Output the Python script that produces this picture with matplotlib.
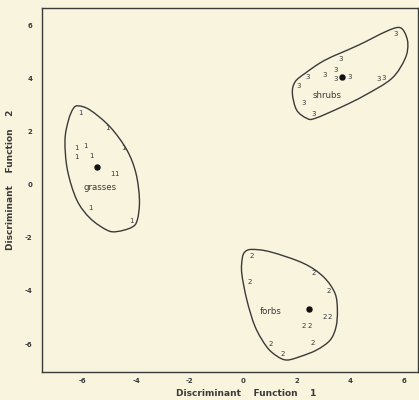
import numpy as np
import matplotlib
matplotlib.use("Agg")
import matplotlib.pyplot as plt
from matplotlib.path import Path
from matplotlib.patches import PathPatch

# ---- data ----
grass_x = [-6.10, -5.09, -6.25, -5.91, -4.49, -6.25, -5.69, -4.90, -4.72, -5.72, -4.16]
grass_y = [2.69, 2.13, 1.37, 1.45, 1.37, 1.03, 1.07, 0.39, 0.39, -0.88, -1.37]
grass_centroid = (-5.47, 0.67)

forb_x = [0.31, 0.22, 2.61, 3.17, 3.05, 3.24, 2.24, 2.46, 1.02, 2.58, 1.46]
forb_y = [-2.68, -3.65, -3.34, -3.99, -4.99, -4.99, -5.32, -5.32, -6.00, -5.95, -6.37]
forb_centroid = (2.46, -4.68)

shrub_x = [5.69, 3.64, 3.46, 2.40, 3.02, 3.45, 3.98, 5.07, 5.25, 2.08, 2.24, 2.64]
shrub_y = [5.66, 4.72, 4.30, 4.05, 4.12, 3.97, 4.05, 3.97, 3.99, 3.71, 3.05, 2.64]
shrub_centroid = (3.70, 4.03)

# group outlines (hand-drawn boundaries)
grass_outline_x = [-6.16, -5.72, -4.98, -4.35, -4.01, -3.88, -3.96, -4.17, -4.73, -5.10,
                   -5.72, -6.22, -6.57, -6.66, -6.53, -6.35]
grass_outline_y = [2.96, 2.80, 2.17, 1.30, 0.42, -0.58, -1.33, -1.61, -1.77, -1.71,
                   -1.27, -0.58, 0.55, 1.67, 2.42, 2.86]

shrub_outline_x = [5.79, 6.01, 6.14, 6.04, 5.54, 4.54, 3.67, 2.68, 2.37, 1.99, 1.83,
                   1.93, 2.30, 3.05, 4.29, 5.29]
shrub_outline_y = [5.91, 5.74, 5.31, 4.74, 3.99, 3.36, 2.92, 2.49, 2.49, 2.80, 3.43,
                   3.86, 4.18, 4.68, 5.24, 5.74]

forb_outline_x = [0.06, 0.31, 1.00, 2.24, 2.99, 3.42, 3.51, 3.46, 3.24, 2.74, 2.12,
                  1.62, 1.25, 0.87, 0.44, 0.13, -0.06, -0.04]
forb_outline_y = [-2.53, -2.44, -2.53, -2.96, -3.47, -4.09, -4.72, -5.35, -5.85, -6.22,
                  -6.47, -6.60, -6.45, -6.10, -5.35, -4.34, -3.34, -2.77]

group_labels = ["grasses", "forbs", "shrubs"]
group_label_pos = [(-5.35, -0.12), (1.02, -4.78), (3.11, 3.34)]
group_symbols = ["1", "2", "3"]

xticks = [-6, -4, -2, 0, 2, 4, 6]
yticks = [-6, -4, -2, 0, 2, 4, 6]
xtick_labels = ["-6", "-4", "-2", "0", "2", "4", "6"]
ytick_labels = ["-6", "-4", "-2", "0", "2", "4", "6"]

# ---- style ----
BG = "#f8f4de"
INK = "#3a3a3a"
plt.rcParams['font.family'] = ['DejaVu Sans']

W, H = 419, 400
fig = plt.figure(figsize=(W / 100, H / 100), dpi=100, facecolor=BG)
left, right, top, bottom = 41.7, 418.0, 8.0, 372.0
ax = fig.add_axes([left / W, 1 - bottom / H, (right - left) / W, (bottom - top) / H])
ax.set_facecolor(BG)
ax.set_xlim(-7.53, 6.52)
ax.set_ylim(-7.05, 6.64)


def closed_smooth_path(xs, ys):
    pts = np.column_stack([xs, ys])
    n = len(pts)
    verts = [pts[0]]
    codes = [Path.MOVETO]
    for i in range(n):
        p0 = pts[(i - 1) % n]
        p1 = pts[i]
        p2 = pts[(i + 1) % n]
        p3 = pts[(i + 2) % n]
        c1 = p1 + (p2 - p0) / 6.0
        c2 = p2 - (p3 - p1) / 6.0
        verts += [c1, c2, p2]
        codes += [Path.CURVE4] * 3
    return Path(np.array(verts), codes)


for ox, oy in [(grass_outline_x, grass_outline_y),
               (shrub_outline_x, shrub_outline_y),
               (forb_outline_x, forb_outline_y)]:
    ax.add_patch(PathPatch(closed_smooth_path(ox, oy), facecolor="none",
                           edgecolor=INK, lw=1.0))

txt = dict(color=INK, fontsize=5, fontweight="normal", ha="center", va="center")
for xs, ys, sym in [(grass_x, grass_y, group_symbols[0]),
                    (forb_x, forb_y, group_symbols[1]),
                    (shrub_x, shrub_y, group_symbols[2])]:
    for x, y in zip(xs, ys):
        ax.text(x, y, sym, **txt)

for c in [grass_centroid, forb_centroid, shrub_centroid]:
    ax.plot([c[0]], [c[1]], "o", color="#111111", ms=3.6)

for lab, (lx, ly) in zip(group_labels, group_label_pos):
    ax.text(lx, ly, lab, color=INK, fontsize=6.2, fontweight="normal",
            ha="center", va="center")

ax.set_xticks(xticks)
ax.set_xticklabels(xtick_labels)
ax.set_yticks(yticks)
ax.set_yticklabels(ytick_labels)
ax.tick_params(axis="both", length=0, labelsize=5, labelcolor=INK)
ax.tick_params(axis="x", pad=4.5)
ax.tick_params(axis="y", pad=6.5)
for lbl in ax.get_xticklabels() + ax.get_yticklabels():
    lbl.set_fontweight("bold")

for s in ax.spines.values():
    s.set_color(INK)
    s.set_linewidth(1.0)

fig.text(246 / W, 1 - 393 / H, "Discriminant    Function    1", color=INK,
         fontsize=6.5, fontweight="bold", ha="center", va="center")
fig.text(11 / W, 1 - 180 / H, "Discriminant    Function    2", color=INK,
         fontsize=6.5, fontweight="bold", ha="center", va="center", rotation=90)

fig.savefig("out.png", dpi=100, facecolor=BG)
